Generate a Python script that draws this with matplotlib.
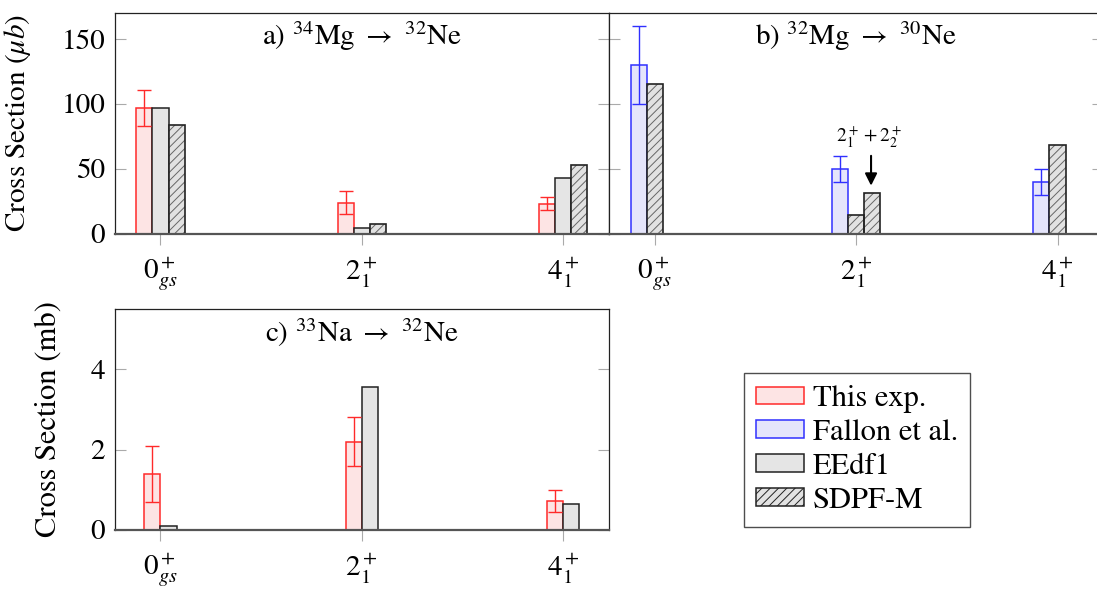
import numpy as np
import matplotlib.pyplot as plt
from matplotlib.patches import Patch

plt.rcParams['font.family'] = ['STIXGeneral', 'DejaVu Serif']
plt.rcParams['mathtext.fontset'] = 'stix'
plt.rcParams['hatch.linewidth'] = 0.7

states = [r'$0^+_{gs}$', r'$2^+_1$', r'$4^+_1$']

# a) 34Mg -> 32Ne, micro barn
mg34_exp = [97, 24, 23]
mg34_exp_err = [14, 9, 5]
mg34_eedf1 = [97, 4.6, 43]
mg34_sdpfm = [84, 7.7, 53]

# b) 32Mg -> 30Ne, micro barn
mg32_fallon = [130, 50, 40]
mg32_fallon_err = [30, 10, 10]
mg32_sdpfm = [115, 14.5, 68.5]
mg32_sum_state = r'$2^+_1$'
mg32_sdpfm_sum = [31]   # 2+_1 + 2+_2 summed

# c) 33Na -> 32Ne, milli barn
na33_exp = [1.4, 2.2, 0.72]
na33_exp_err = [0.7, 0.62, 0.27]
na33_eedf1 = [0.1, 3.55, 0.64]

W = 0.0795
RED, RED_F = '#ff2a2a', '#fde4e4'
BLUE, BLUE_F = '#3030ff', '#e5e5fb'
GRAY_F = '#e5e5e5'
HATCH_F, HATCH_C = '#e2e2e2', '#666666'


def exp_bars(ax, x, vals, errs, edge, face):
    ax.bar(x, vals, W, color=face, edgecolor=edge, lw=1.1, zorder=2)
    ax.errorbar(x, vals, yerr=errs, fmt='none', ecolor=edge, elinewidth=1,
                capsize=5, capthick=1, zorder=3)


def gray_bars(ax, x, vals):
    ax.bar(x, vals, W, color=GRAY_F, edgecolor='#222222', lw=1.1, zorder=2)


def hatched_bars(ax, x, vals):
    # hatch drawn separately so the lines stay gray while the outline is black
    ax.bar(x, vals, W, color=HATCH_F, edgecolor=HATCH_C, hatch='////', lw=0, zorder=2)
    ax.bar(x, vals, W, fill=False, edgecolor='#222222', lw=1.2, zorder=2.1)


def style_axes(ax, title, ylim, yticks):
    ax.set_xlim(-0.226, 2.226)
    ax.set_ylim(*ylim)
    ax.set_yticks(yticks)
    ax.set_xticks(np.arange(len(states)))
    ax.set_xticklabels(states)
    ax.tick_params(axis='y', direction='in', length=8, color='#aaaaaa',
                   left=True, right=True, labelsize=21, pad=7)
    ax.tick_params(axis='x', direction='out', length=8, color='#aaaaaa',
                   labelsize=21, pad=8)
    for sp in ax.spines.values():
        sp.set_linewidth(0.9)
        sp.set_color('#222222')
    ax.spines['bottom'].set_color('#555555')
    ax.spines['bottom'].set_linewidth(1.6)
    ax.text(0.5, 0.893, title, transform=ax.transAxes, ha='center', va='center',
            fontsize=21)


fig = plt.figure(figsize=(10.97, 5.9), dpi=100)
ax_a = fig.add_axes([0.1048, 0.6039, 0.4503, 0.374])
ax_b = fig.add_axes([0.5552, 0.6039, 0.4503, 0.374])
ax_c = fig.add_axes([0.1048, 0.1022, 0.4503, 0.3736])

x = np.arange(len(states))

# panel a
exp_bars(ax_a, x - W, mg34_exp, mg34_exp_err, RED, RED_F)
gray_bars(ax_a, x, mg34_eedf1)
hatched_bars(ax_a, x + W, mg34_sdpfm)
style_axes(ax_a, r'a) $^{34}$Mg $\rightarrow$ $^{32}$Ne', (0, 170), [0, 50, 100, 150])
ax_a.set_ylabel(r'Cross Section ($\mu b$)', fontsize=21)
ax_a.yaxis.set_label_coords(-0.166, 0.5)

# panel b
exp_bars(ax_b, x - W, mg32_fallon, mg32_fallon_err, BLUE, BLUE_F)
hatched_bars(ax_b, x, mg32_sdpfm)
x_sum = np.array([states.index(mg32_sum_state)]) + W
hatched_bars(ax_b, x_sum, mg32_sdpfm_sum)
style_axes(ax_b, r'b) $^{32}$Mg $\rightarrow$ $^{30}$Ne', (0, 170), [0, 50, 100, 150])
ax_b.tick_params(axis='y', labelleft=False)
ax_b.annotate('', xy=(x_sum[0] - 0.005, mg32_sdpfm_sum[0] + 6),
              xytext=(x_sum[0] - 0.005, mg32_sdpfm_sum[0] + 29),
              arrowprops=dict(arrowstyle='-|>', color='black', lw=1.5,
                              mutation_scale=18, shrinkA=0, shrinkB=0))
ax_b.text(x_sum[0] - 0.015, mg32_sdpfm_sum[0] + 43, r'$2^+_1+2^+_2$',
          ha='center', va='center', fontsize=14)

# panel c
exp_bars(ax_c, x - W / 2, na33_exp, na33_exp_err, RED, RED_F)
gray_bars(ax_c, x + W / 2, na33_eedf1)
style_axes(ax_c, r'c) $^{33}$Na $\rightarrow$ $^{32}$Ne', (0, 5.5), [0, 2, 4])
ax_c.set_ylabel('Cross Section (mb)', fontsize=22)
ax_c.yaxis.set_label_coords(-0.105, 0.5)

handles = [
    Patch(facecolor=RED_F, edgecolor=RED, lw=1.1),
    Patch(facecolor=BLUE_F, edgecolor=BLUE, lw=1.1),
    Patch(facecolor=GRAY_F, edgecolor='#222222', lw=1.1),
    Patch(facecolor=HATCH_F, edgecolor='#222222', hatch='////', lw=1.1),
]
labels = ['This exp.', 'Fallon et al.', 'EEdf1', 'SDPF-M']
leg = fig.legend(handles, labels, loc='center', bbox_to_anchor=(0.7813, 0.2373),
                 fontsize=22, frameon=True, fancybox=False, edgecolor='#222222',
                 handlelength=1.55, handleheight=0.5, handletextpad=0.3,
                 labelspacing=0.2, borderpad=0.4)
leg.get_frame().set_linewidth(1.0)

fig.savefig('out.png', dpi=100)
